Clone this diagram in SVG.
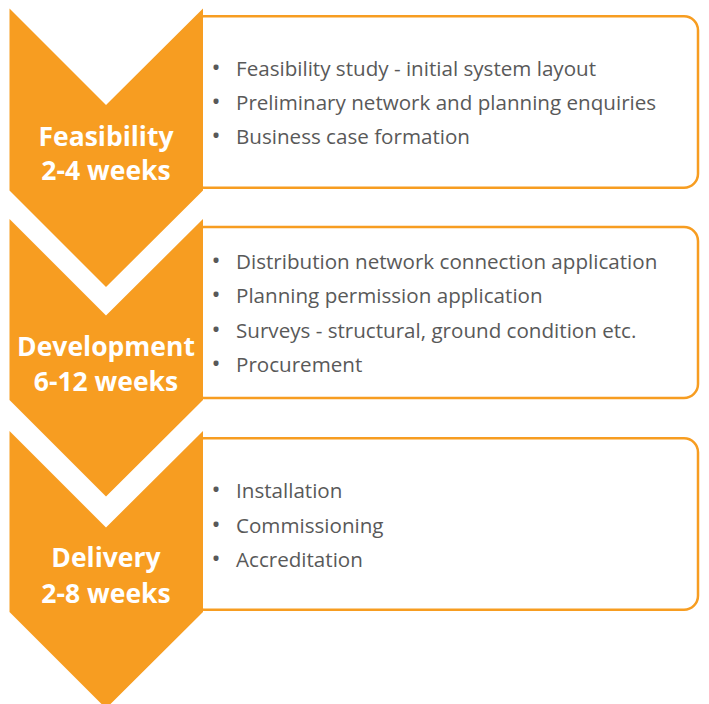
<svg xmlns="http://www.w3.org/2000/svg" width="709" height="704" viewBox="0 0 709 704">
<style>
.box{fill:#ffffff;stroke:#F79D21;stroke-width:2.5}
.chev{fill:#F79D21}
.lbl{font-family:"Open Sans","Liberation Sans",sans-serif;font-weight:bold;font-size:26.5px;fill:#ffffff;text-anchor:middle}
.item{font-family:"Open Sans","Liberation Sans",sans-serif;font-size:20.6px;fill:#595959}
.bul{font-family:"Open Sans","Liberation Sans",sans-serif;font-size:24px;fill:#595959;text-anchor:middle}
</style>
<rect width="709" height="704" fill="#ffffff"/>
<g id="stage-feasibility">
<rect class="box" x="190" y="16.3" width="508" height="171.4" rx="14"/>
<polygon class="chev" points="9.5,8.5 106,105 203,8.5 203,190.5 106,287 9.5,190.5"/>
<text class="lbl" x="106" y="146">Feasibility</text>
<text class="lbl" x="106" y="180">2-4 weeks</text>
<text class="bul" x="216" y="76">•</text><text class="item" x="236" y="76">Feasibility study - initial system layout</text>
<text class="bul" x="216" y="110">•</text><text class="item" x="236" y="110">Preliminary network and planning enquiries</text>
<text class="bul" x="216" y="144">•</text><text class="item" x="236" y="144">Business case formation</text>
</g>
<g id="stage-development">
<rect class="box" x="190" y="227" width="508" height="171" rx="14"/>
<polygon class="chev" points="9.5,219 106,315.5 203,219 203,400 106,496.5 9.5,400"/>
<text class="lbl" x="106" y="356">Development</text>
<text class="lbl" x="106" y="390.5">6-12 weeks</text>
<text class="bul" x="216" y="269">•</text><text class="item" x="236" y="269">Distribution network connection application</text>
<text class="bul" x="216" y="303.3">•</text><text class="item" x="236" y="303.3">Planning permission application</text>
<text class="bul" x="216" y="337.7">•</text><text class="item" x="236" y="337.7">Surveys - structural, ground condition etc.</text>
<text class="bul" x="216" y="372">•</text><text class="item" x="236" y="372">Procurement</text>
</g>
<g id="stage-delivery">
<rect class="box" x="190" y="438.3" width="508" height="171.4" rx="14"/>
<polygon class="chev" points="9.5,431 106,527.5 203,431 203,612 106,708.5 9.5,612"/>
<text class="lbl" x="106" y="566.5">Delivery</text>
<text class="lbl" x="106" y="602.5">2-8 weeks</text>
<text class="bul" x="216" y="498">•</text><text class="item" x="236" y="498">Installation</text>
<text class="bul" x="216" y="532.5">•</text><text class="item" x="236" y="532.5">Commissioning</text>
<text class="bul" x="216" y="567">•</text><text class="item" x="236" y="567">Accreditation</text>
</g>
<g id="connectors"/>
</svg>
